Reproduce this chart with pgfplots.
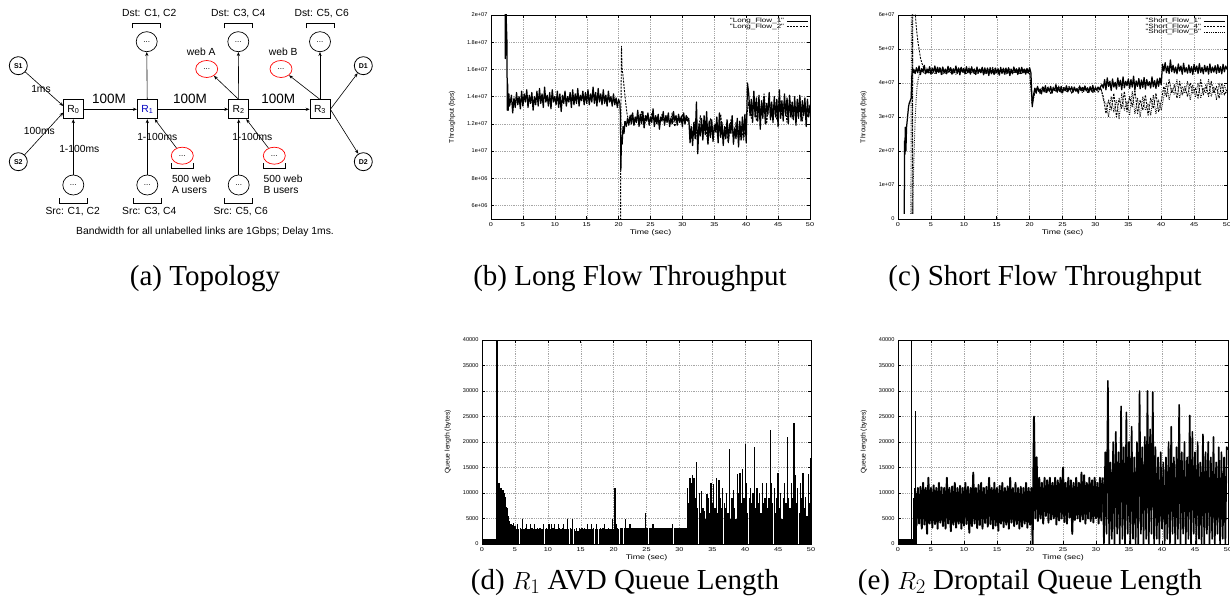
\documentclass[border=0pt]{standalone}
\usepackage{fontspec}
\setmainfont{Liberation Serif}
\newfontfamily\sansf{Liberation Sans}
\newfontfamily\sansw[FakeStretch=1.3]{Liberation Sans}
\usepackage{pgfplots}
\pgfplotsset{compat=1.18}
\usepackage{pgfplotstable}
\usetikzlibrary{arrows.meta,shapes.geometric}
\newcommand\ytickf{\sansf\fontsize{5.6}{6.5}\selectfont}
\newcommand\xtickf{\sansw\fontsize{5.6}{6.5}\selectfont}
\newcommand\xlabf{\sansw\fontsize{6.8}{7.5}\selectfont}
\newcommand\ylabf{\sansf\fontsize{6.8}{7.5}\selectfont}
\newcommand\legf{\sansw\fontsize{6.2}{5}\selectfont}
\newcommand\dfont{\sansf\fontsize{10.3}{12}\selectfont}
\newcommand\capf{\fontsize{29}{34}\selectfont}
\pgfplotsset{
  table/tb/.style={row sep=\\, header=false, y index=0},
  s1/.style={black, line width=1.25pt, line join=round},
  s2/.style={black, line width=0.9pt, dash pattern=on 2pt off 1.2pt, line join=round},
  s3/.style={black, line width=0.9pt, dash pattern=on 0.7pt off 1.1pt, line join=round},
  gp/.style={
    scale only axis, anchor=south west,
    xmin=0, xmax=50, xtick={0,5,...,50},
    xticklabels={0,5,10,15,20,25,30,35,40,45,50},
    xticklabel style={font=\xtickf},
    yticklabel style={font=\ytickf},
    xlabel style={font=\xlabf, yshift=3.5pt},
    ylabel style={font=\ylabf, yshift=5pt},
    xlabel={Time (sec)},
    grid=major,
    major grid style={gray!70, dash pattern=on 0.6pt off 1.2pt, line width=0.4pt},
    axis line style={line width=0.9pt},
    major tick length=3pt,
    tick style={black, line width=0.5pt},
    legend cell align=right,
    legend plot pos=right,
    legend style={draw=none, fill=none, font=\legf, at={(0.995,0.985)}, anchor=north east, inner sep=0pt, row sep=0pt, column sep=2pt, nodes={inner sep=0.3pt, text height=4pt, text depth=1pt}},
    legend image code/.code={\draw[##1, line width=0.8pt] (0pt,0pt) -- (21pt,0pt);},
  },
}
\begin{document}
\begin{tikzpicture}
\useasboundingbox (0,0) rectangle (1230pt,603pt);
% ---------------- (a) topology ----------------
\begin{scope}[x=1pt,y=-1pt,yshift=603pt, font=\dfont, >={Stealth[length=4pt,width=3.2pt]}, line width=0.6pt]
\tikzset{
 rt/.style={draw, line width=0.7pt, minimum width=20pt, minimum height=19pt, inner sep=0pt},
 cn/.style={draw, ellipse, minimum width=21pt, minimum height=20pt, inner sep=0pt, line width=0.7pt, font=\sansf\fontsize{8}{9}\selectfont},
 rn/.style={draw=red, ellipse, minimum width=22pt, minimum height=17pt, inner sep=0pt, line width=0.7pt, font=\sansf\fontsize{8}{9}\selectfont},
 sn/.style={draw, circle, minimum size=18pt, inner sep=0pt, line width=0.8pt, font=\sansf\bfseries\fontsize{7}{8}\selectfont},
}
\node[rt] (R0) at (73.3,109.3) {R\textsubscript{0}};
\node[rt,text=blue!75!black] (R1) at (147.3,109.3) {R\textsubscript{1}};
\node[rt] (R2) at (238.7,109.3) {R\textsubscript{2}};
\node[rt] (R3) at (320,109.3) {R\textsubscript{3}};
\node[sn] (S1) at (18.3,65.7) {S1};
\node[sn] (S2) at (18.3,161.7) {S2};
\node[sn] (D1) at (363.3,65.7) {D1};
\node[sn] (D2) at (363.3,161.7) {D2};
\node[cn] (T1) at (146.7,41.7) {...};
\node[cn] (T2) at (238.3,41.7) {...};
\node[cn] (T3) at (320,41.7) {...};
\node[cn] (B0) at (73.3,185) {...};
\node[cn] (B1) at (147.3,185) {...};
\node[cn] (B2) at (238.7,185) {...};
\node[rn] (WA) at (206.7,69) {...};
\node[rn] (WB) at (281,69) {...};
\node[rn] (UA) at (182.3,155.7) {...};
\node[rn] (UB) at (274.3,155.7) {...};
\draw[->] (S1) -- (63.3,106);
\draw[->] (S2) -- (63.3,112.5);
\draw[->] (R0) -- (R1);
\draw[->] (R1) -- (R2);
\draw[->] (R2) -- (R3);
\draw[->] (B0) -- (R0);
\draw[->] (B1) -- (R1);
\draw[->] (B2) -- (R2);
\draw[->] (R1) -- (T1);
\draw[->] (R2) -- (T2);
\draw[->] (R3) -- (T3);
\draw[->] (UA) -- (R1);
\draw[->] (UB) -- (R2);
\draw[->] (R2.north) -- (WA);
\draw[->] (R3.north) -- (WB);
\draw[->] (R3.east) -- (D1);
\draw[->] (R3.east) -- (D2);
\foreach \c in {146.7,238.3,320}{\draw (\c-14,28.5) -- (\c-14,23.5) -- (\c+14,23.5) -- (\c+14,28.5);}
\foreach \c in {73.3,147.3,238.7}{\draw (\c-14,198.5) -- (\c-14,203) -- (\c+14,203) -- (\c+14,198.5);}
\foreach \c in {182.5,274.2}{\draw (\c-11,163.5) -- (\c-11,168.3) -- (\c+11,168.3) -- (\c+11,163.5);}
\node at (41,89.3) {1ms};
\node at (39.3,131) {100ms};
\node at (79.3,149) {1-100ms};
\node at (157.3,136.7) {1-100ms};
\node at (252.3,136.7) {1-100ms};
\node[font=\sansf\fontsize{13.5}{15}\selectfont] at (109,99.3) {100M};
\node[font=\sansf\fontsize{13.5}{15}\selectfont] at (190,99.3) {100M};
\node[font=\sansf\fontsize{13.5}{15}\selectfont] at (278.3,99.3) {100M};
\node at (149.3,14) {Dst: C1, C2};
\node at (238.3,14) {Dst: C3, C4};
\node at (321.7,14) {Dst: C5, C6};
\node at (72.7,211.7) {Src: C1, C2};
\node at (149.3,211.7) {Src: C3, C4};
\node at (240.7,211.7) {Src: C5, C6};
\node at (201.3,52.3) {web A};
\node at (283.3,52.3) {web B};
\node[anchor=west, align=left, inner sep=0pt] at (171.7,184.5) {500 web\\[-1pt]A users};
\node[anchor=west, align=left, inner sep=0pt] at (263.3,184.5) {500 web\\[-1pt]B users};
\node at (205,232.3) {Bandwidth for all unlabelled links are 1Gbps; Delay 1ms.};
\end{scope}
% ---------------- (b) ----------------
\begin{axis}[gp, at={(491pt,384pt)}, width=319pt, height=204pt,
  ymin=5, ymax=20, ytick={6,8,...,20},
  yticklabels={6e+06,8e+06,1e+07,1.2e+07,1.4e+07,1.6e+07,1.8e+07,2e+07},
  ylabel={Throughput (bps)}]
\addplot[s1] coordinates {(2.2,26)(2.25,16.8)(2.3,22)(2.4,19.5)(2.5,18)(2.55,13)(2.6,15)(2.7,13)(2.8,14.2)(2.9,13.3)(3.0,13.5)};
\addlegendentry{"Long\_Flow\_1"}
\addplot[s1,forget plot] table[tb, x expr={3.0+0.2*\coordindex}] {13.5\\14.1\\12.8\\13.9\\13.2\\14.3\\13.4\\14.0\\13.1\\14.4\\
13.3\\14.2\\13.6\\14.5\\13.2\\14.1\\13.5\\14.3\\13.0\\14.0\\
13.4\\14.4\\13.3\\14.6\\13.5\\14.2\\13.2\\14.7\\13.6\\14.1\\
13.3\\14.3\\13.1\\14.5\\13.6\\14.0\\13.4\\14.4\\13.2\\14.2\\
12.9\\14.1\\13.5\\14.4\\13.3\\14.0\\13.6\\14.3\\13.2\\14.5\\
13.4\\14.2\\13.5\\14.6\\13.3\\14.1\\13.7\\14.4\\13.4\\14.3\\
13.5\\14.5\\13.4\\14.2\\13.6\\14.7\\13.5\\14.3\\13.3\\14.6\\
13.6\\14.2\\13.4\\14.5\\13.5\\14.1\\13.3\\14.4\\13.6\\14.0\\
13.3\\14.2\\13.4\\13.9\\13.2\\13.8\\13.5\\};
\addplot[s1,forget plot] coordinates {(20.2,13.5)(20.3,12.5)(20.35,8.6)(20.45,11)(20.55,10.5)(20.7,11.8)(20.85,11.3)(21.0,12.2)};
\addplot[s1,forget plot] table[tb, x expr={21.0+0.2*\coordindex}] {12.2\\
11.8\\12.4\\11.9\\12.6\\12.0\\12.8\\11.9\\12.5\\12.1\\13.0\\
11.8\\12.7\\12.0\\12.9\\11.7\\12.6\\12.2\\12.8\\11.9\\12.5\\
12.1\\13.1\\11.8\\12.6\\12.0\\12.7\\11.6\\12.5\\12.2\\12.9\\
11.9\\12.6\\12.1\\12.8\\11.8\\12.4\\12.0\\12.9\\12.2\\12.6\\
11.9\\12.7\\12.1\\12.5\\11.8\\12.8\\12.0\\12.6\\12.2\\12.4\\
10.6\\11.8\\10.4\\12.1\\10.9\\13.6\\9.8\\12.0\\11.1\\12.4\\
10.8\\12.6\\11.2\\12.9\\10.5\\12.2\\11.0\\12.3\\10.7\\11.9\\
11.4\\12.5\\10.6\\12.8\\11.0\\12.1\\10.4\\11.8\\10.9\\12.3\\
10.7\\12.0\\11.3\\12.6\\10.5\\11.7\\10.9\\12.4\\10.3\\12.2\\
10.8\\12.5\\11.1\\12.7\\10.6\\
15.0\\
14.2\\12.6\\13.8\\12.1\\14.4\\12.5\\13.9\\12.2\\14.1\\
11.6\\13.7\\12.4\\14.0\\12.0\\13.5\\12.7\\14.3\\12.3\\13.6\\
12.1\\14.0\\12.5\\13.8\\11.8\\14.5\\12.4\\13.7\\12.2\\14.2\\
12.6\\13.9\\12.0\\14.1\\12.5\\13.6\\12.3\\14.0\\11.9\\13.8\\
12.4\\14.1\\12.2\\13.7\\12.6\\13.9\\11.8\\13.8\\12.5\\13.4\\};
\addplot[s2] coordinates {(20.3,4)(20.35,12)(20.45,17.7)(20.55,16)(20.7,15.5)(20.9,14.5)(21.1,13.6)(21.3,12.8)(21.6,12.1)};
\addlegendentry{"Long\_Flow\_2"}
\addplot[s2,forget plot] table[tb, x expr={21.6+0.4*\coordindex}] {12.1\\12.7\\11.9\\12.5\\12.2\\12.9\\11.8\\12.6\\12.0\\12.8\\12.3\\12.5\\11.9\\12.7\\12.1\\12.6\\12.0\\12.8\\11.8\\12.4\\12.2\\12.7\\12.0\\12.5\\11.7\\
11.3\\12.2\\10.7\\12.6\\11.0\\11.9\\10.5\\12.4\\11.2\\12.0\\10.8\\12.7\\11.1\\11.8\\10.6\\12.3\\11.0\\12.1\\10.9\\11.7\\10.8\\12.3\\
13.6\\12.4\\14.0\\12.2\\13.5\\12.7\\14.2\\12.0\\13.8\\12.5\\13.4\\12.3\\14.1\\12.6\\13.7\\12.1\\13.9\\12.4\\13.5\\12.8\\14.0\\12.2\\13.6\\12.5\\13.2\\};
\end{axis}
% ---------------- (c) ----------------
\begin{axis}[gp, at={(898pt,384pt)}, width=329pt, height=204pt,
  ymin=0, ymax=6, ytick={0,1,...,6},
  yticklabels={0,1e+07,2e+07,3e+07,4e+07,5e+07,6e+07},
  ylabel={Throughput (bps)}]
\addplot[s1] coordinates {(0.95,0.15)(1.0,2.3)(1.05,1.9)(1.1,2.7)(1.2,2.0)(1.3,2.7)(1.4,2.9)(1.5,3.1)(1.6,3.3)(1.7,3.4)(1.8,3.45)(1.9,3.5)(2.0,3.55)(2.1,4.2)(2.2,4.45)(2.3,4.3)(2.4,4.4)};
\addlegendentry{"Short\_Flow\_1"}
\addplot[s1,forget plot] table[tb, x expr={2.4+0.2*\coordindex}] {4.4\\4.28\\4.45\\4.3\\4.5\\4.25\\4.42\\4.33\\4.52\\4.27\\
4.4\\4.3\\4.48\\4.26\\4.44\\4.32\\4.5\\4.28\\4.46\\4.31\\
4.43\\4.25\\4.47\\4.3\\4.41\\4.27\\4.49\\4.33\\4.45\\4.26\\
4.42\\4.31\\4.5\\4.28\\4.44\\4.24\\4.46\\4.32\\4.43\\4.27\\
4.48\\4.3\\4.42\\4.26\\4.45\\4.33\\4.4\\4.25\\4.47\\4.29\\
4.41\\4.3\\4.46\\4.24\\4.43\\4.28\\4.44\\4.22\\4.45\\4.27\\
4.4\\4.25\\4.44\\4.3\\4.42\\4.23\\4.46\\4.28\\4.41\\4.26\\
4.43\\4.29\\4.45\\4.22\\4.4\\4.27\\4.47\\4.31\\4.42\\4.25\\
4.44\\4.28\\4.46\\4.3\\4.41\\4.26\\4.43\\4.29\\4.45\\4.3\\
3.3\\
3.65\\3.85\\3.7\\3.9\\3.75\\3.82\\3.68\\3.88\\3.74\\3.92\\
3.72\\3.86\\3.76\\3.9\\3.7\\3.84\\3.78\\3.95\\3.73\\3.87\\
3.75\\3.9\\3.71\\3.85\\3.77\\3.92\\3.74\\3.86\\3.79\\3.89\\
3.73\\3.88\\3.76\\3.84\\3.7\\3.91\\3.78\\3.87\\3.75\\3.9\\
3.77\\3.86\\3.72\\3.89\\3.76\\3.93\\3.74\\3.85\\3.79\\3.88\\
3.8\\3.9\\3.95\\
3.85\\4.1\\3.8\\4.15\\3.9\\4.05\\3.78\\4.12\\3.88\\4.02\\
3.82\\4.15\\3.9\\4.08\\3.8\\4.18\\3.86\\4.05\\3.92\\4.12\\
3.84\\4.1\\3.88\\4.2\\3.8\\4.06\\3.9\\4.13\\3.83\\4.09\\
3.87\\4.16\\3.82\\4.1\\3.92\\4.04\\3.85\\4.18\\3.89\\4.07\\
3.84\\4.12\\3.9\\4.15\\3.95\\
4.55\\4.35\\4.6\\4.3\\4.5\\4.28\\4.68\\4.33\\4.52\\4.3\\
4.47\\4.27\\4.56\\4.35\\4.5\\4.26\\4.58\\4.32\\4.45\\4.29\\
4.53\\4.3\\4.48\\4.25\\4.55\\4.34\\4.5\\4.28\\4.57\\4.31\\
4.46\\4.27\\4.52\\4.33\\4.49\\4.26\\4.56\\4.3\\4.47\\4.32\\
4.51\\4.28\\4.54\\4.31\\4.48\\4.27\\4.55\\4.33\\4.5\\4.4\\};
\addplot[s2] coordinates {(2.15,0.15)(2.25,6.5)(2.6,6.1)(2.8,5.6)(3.0,5.25)(3.2,5.0)(3.4,4.75)(3.6,4.6)(3.8,4.5)(4.0,4.4)};
\addlegendentry{"Short\_Flow\_4"}
\addplot[s2,forget plot] table[tb, x expr={4.0+0.4*\coordindex}] {4.4\\4.3\\4.45\\4.28\\4.42\\4.33\\4.47\\4.26\\4.4\\4.31\\4.44\\4.27\\4.41\\4.35\\4.46\\4.29\\4.43\\4.3\\4.48\\4.25\\4.4\\4.32\\4.45\\4.28\\4.42\\4.3\\4.46\\4.27\\4.41\\4.33\\4.44\\4.26\\4.43\\4.29\\4.4\\4.31\\4.45\\4.28\\4.42\\4.3\\4.35\\
3.4\\
3.72\\3.86\\3.7\\3.9\\3.76\\3.83\\3.69\\3.88\\3.75\\3.91\\3.73\\3.85\\3.78\\3.9\\3.71\\3.87\\3.74\\3.84\\3.77\\3.92\\3.72\\3.86\\3.75\\3.89\\3.73\\3.85\\3.6\\
3.1\\3.5\\3.2\\3.7\\3.0\\3.55\\3.25\\3.75\\3.15\\3.6\\3.3\\3.8\\3.1\\3.5\\3.2\\3.65\\3.05\\3.55\\3.25\\3.7\\3.15\\3.45\\
3.9\\3.6\\4.1\\3.7\\3.95\\3.55\\4.05\\3.65\\3.9\\3.6\\4.0\\3.7\\3.85\\3.55\\4.1\\3.65\\3.95\\3.6\\4.05\\3.7\\3.9\\3.55\\4.0\\3.65\\3.8\\};
\addplot[s3] coordinates {(1.95,0.15)(2.05,6.5)(2.2,6.5)(2.25,0.15)(2.35,1.3)(2.5,2.3)(2.6,2.9)(2.75,3.5)(2.9,3.9)(3.1,4.15)(3.3,4.3)(3.6,4.35)};
\addlegendentry{"Short\_Flow\_6"}
\addplot[s3,forget plot] table[tb, x expr={3.6+0.4*\coordindex}] {4.35\\4.28\\4.44\\4.3\\4.4\\4.26\\4.46\\4.32\\4.42\\4.27\\4.45\\4.3\\4.41\\4.25\\4.44\\4.33\\4.4\\4.28\\4.47\\4.29\\4.43\\4.26\\4.41\\4.31\\4.45\\4.27\\4.42\\4.3\\4.44\\4.25\\4.4\\4.32\\4.46\\4.28\\4.43\\4.29\\4.41\\4.26\\4.44\\4.31\\4.4\\4.3\\
3.35\\
3.75\\3.88\\3.68\\3.84\\3.73\\3.9\\3.7\\3.86\\3.77\\3.83\\3.71\\3.89\\3.74\\3.87\\3.69\\3.85\\3.76\\3.91\\3.72\\3.84\\3.78\\3.88\\3.7\\3.86\\3.74\\3.9\\3.5\\
3.4\\3.0\\3.6\\3.15\\3.5\\2.95\\3.7\\3.2\\3.45\\3.05\\3.75\\3.1\\3.55\\3.0\\3.6\\3.2\\3.4\\3.05\\3.65\\3.1\\3.5\\3.2\\
3.6\\4.0\\3.5\\3.85\\3.65\\4.1\\3.55\\3.9\\3.7\\4.05\\3.5\\3.95\\3.6\\4.0\\3.55\\3.85\\3.7\\4.1\\3.6\\3.9\\3.5\\4.0\\3.65\\3.95\\3.7\\};
\end{axis}
% ---------------- (d) ----------------
\begin{axis}[gp, at={(482pt,59pt)}, width=329pt, height=204pt,
  ymin=0, ymax=40, ytick={0,5,...,40},
  yticklabels={0,5000,10000,15000,20000,25000,30000,35000,40000},
  ylabel={Queue length (bytes)}]
\addplot[ycomb, black, line width=1.3pt] table[tb, x expr={0.1*\coordindex}] {1\\1\\1\\1\\1\\1\\1\\1\\1\\1\\1\\1\\1\\1\\1\\1\\1\\1\\1\\1\\1\\1\\1\\
45\\45\\12\\12\\11.8\\10\\11\\10.3\\9.8\\10.5\\9.9\\10\\9.2\\8.5\\7.2\\7\\6\\5.5\\};
\addplot[ycomb, black, line width=1.25pt] table[tb, x expr={4.2+0.2*\coordindex}] {4.5\\4.0\\3.8\\4.2\\3.6\\
3\\4\\3\\3.2\\3\\ 5\\3\\3.1\\4\\3\\ 3\\4\\3.2\\3\\4\\ 3\\3.1\\3\\3.2\\3\\ 3\\4\\3\\3.1\\3\\
4\\3\\4\\3.2\\4\\ 3\\3\\4\\3.1\\3\\ 3.2\\4\\3\\3\\5\\ 3\\3.1\\3\\5\\3\\ 2.6\\3.2\\2.5\\3.1\\3\\
3.1\\3\\3.2\\3\\4\\ 3\\3\\4\\3\\3.1\\ 3\\4\\3\\3\\3.1\\ 3\\3.2\\4\\3\\3\\ 3.1\\3\\3\\5\\3\\
11\\4\\3.2\\3\\3.2\\ 3.2\\3.2\\3.2\\5\\3.2\\ 3.2\\4\\4\\3.2\\3.2\\ 3.2\\3.2\\3.2\\3.2\\3.2\\ 3.2\\3.2\\3.2\\6\\3.2\\
3.2\\3.2\\3.2\\3.2\\4\\ 3.2\\3.2\\3.2\\3.2\\3.2\\ 3.2\\3.2\\3.2\\3.2\\3.2\\ 3.2\\3.2\\3.2\\3.2\\4\\ 3.2\\3.2\\3.2\\3.2\\3.2\\ 3.2\\3.2\\3.2\\3.2\\3.2\\
11\\8\\13\\12\\13.5\\ 13\\9\\16\\7\\10\\ 6\\10.3\\7\\6.5\\5\\ 9.8\\9\\6\\12\\8\\ 11.8\\7\\13\\6\\12.5\\
9\\7\\11\\8\\7\\ 10\\6\\18.6\\5\\9\\ 10.5\\7\\5\\13.8\\10\\ 14\\8\\14.7\\9\\19.6\\ 12\\6\\9\\11\\8\\
10\\19\\7\\11\\8\\ 10\\6\\12\\8\\9\\ 12\\7\\9\\22.3\\12\\ 8\\11\\6\\9\\14\\ 7\\10\\5\\9\\12\\
8\\21\\9\\7\\12\\ 9\\23.8\\13.5\\8\\11\\ 6\\12\\9\\14\\7\\ 9.2\\5.5\\13.8\\8\\16.8\\};
\end{axis}
% ---------------- (e) ----------------
\begin{axis}[gp, at={(898pt,59pt)}, width=330pt, height=204pt,
  ymin=0, ymax=40, ytick={0,5,...,40},
  yticklabels={0,5000,10000,15000,20000,25000,30000,35000,40000},
  ylabel={Queue length (bytes)}]
\addplot[ycomb, black, line width=1.2pt] table[tb, x expr={0.1*\coordindex}] {1\\1\\1\\1\\1\\1\\1\\1\\1\\1\\1\\1\\1\\1\\1\\1\\1\\1\\1\\1\\
45\\25\\1\\6\\9\\11\\26\\11\\10\\};
\addplot[black, line width=1.9pt, line join=round] table[tb, x expr={2.8+0.2*\coordindex}] {
3.5\\11\\4\\11.2\\3\\12\\3.8\\11\\2\\13\\4\\11\\3.2\\11.5\\3.9\\11\\3\\12\\4.2\\11.1\\
3.5\\11\\3\\13\\4\\11\\2.5\\11.3\\3.8\\12\\3.2\\11\\4\\11.4\\3\\11\\3.6\\12\\3.9\\11.2\\
2.2\\11\\3.5\\14\\4\\11\\3.1\\11.6\\3.7\\12\\3\\11\\4.1\\11.2\\3.4\\13\\3.9\\11\\3\\12\\
3.6\\11\\2.6\\11.4\\4\\12\\3.3\\11\\3.8\\11.3\\3\\13\\4.2\\11\\3.5\\12\\3.9\\11\\3\\11.2\\
3.4\\11\\4\\12\\3.2\\11\\3.8\\11\\
0\\25\\5\\17\\
4.5\\13\\5\\12\\4\\13\\5.5\\12.5\\4.2\\13\\4.8\\12\\5\\13\\3.8\\12.5\\4.6\\13\\5\\15\\
4.3\\12\\4\\13\\5.2\\12.5\\2\\12\\4.7\\13\\5\\12\\4.4\\14\\4.8\\13.5\\4\\12\\5\\13\\
4.5\\12.5\\4.2\\13\\5\\12\\4\\13\\4.6\\13\\};
\addplot[black, line width=1.6pt, line join=round] table[tb, x expr={31.0+0.2*\coordindex}] {13\\
0\\18\\2\\32\\0\\16\\1\\20\\0\\22\\2\\18\\0\\27\\1\\19\\0\\25.8\\2\\20\\
0\\23\\1\\17\\0\\20\\0\\30\\2\\19\\0\\21\\1\\30\\0\\22.5\\2\\29.8\\0\\19\\
1\\17\\0\\18\\3\\16\\0\\17\\1\\20\\0\\23\\2\\17\\0\\19\\1\\27.3\\0\\18\\
2\\20\\0\\17\\1\\25.2\\0\\22\\2\\18\\0\\20\\1\\16\\0\\21.5\\0\\18\\2\\20\\
0\\17\\1\\21\\0\\16\\2\\19\\0\\18\\1\\17\\0\\19\\18.5\\};
\end{axis}
% ---------------- captions ----------------
\node[font=\capf, anchor=base] at (205pt,317pt) {(a) Topology};
\node[font=\capf, anchor=base] at (630pt,317pt) {(b) Long Flow Throughput};
\node[font=\capf, anchor=base] at (1045pt,317pt) {(c) Short Flow Throughput};
\node[font=\capf, anchor=base] at (625pt,14pt) {(d) $R_1$ AVD Queue Length};
\node[font=\capf, anchor=base] at (1030pt,14pt) {(e) $R_2$ Droptail Queue Length};
\end{tikzpicture}
\end{document}
